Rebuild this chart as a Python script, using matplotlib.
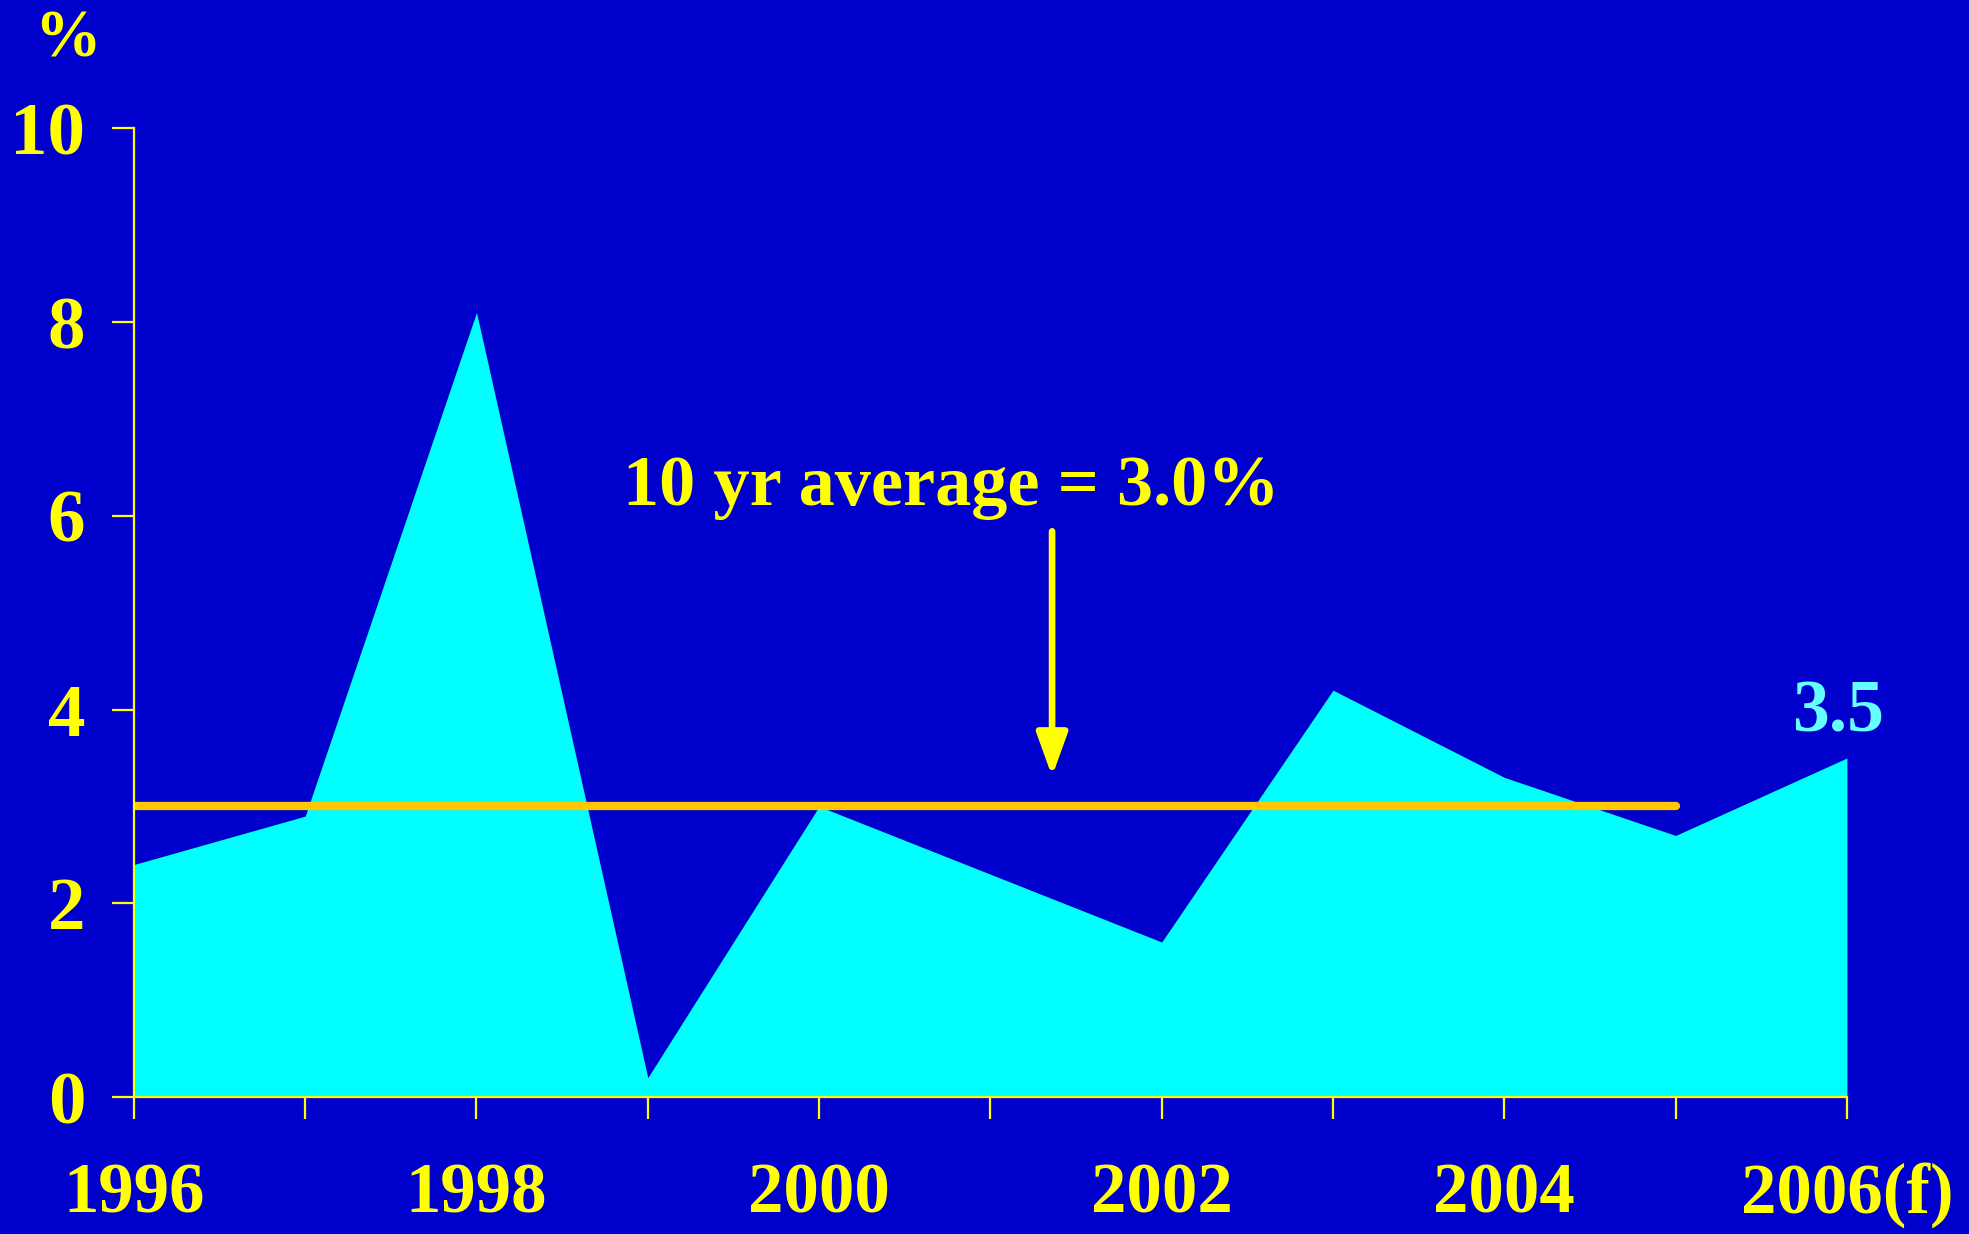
import matplotlib.pyplot as plt
import numpy as np

# yearly growth, %
years = [1996, 1997, 1998, 1999, 2000, 2001, 2002, 2003, 2004, 2005, 2006]
growth = [2.4, 2.9, 8.1, 0.2, 3.0, 2.3, 1.6, 4.2, 3.3, 2.7, 3.5]
avg_value = 3.0
avg_span = [1996, 2005]
tick_years = [1996, 1998, 2000, 2002, 2004, 2006]
tick_labels = ['1996', '1998', '2000', '2002', '2004', '2006(f)']
y_ticks = [0, 2, 4, 6, 8, 10]

bg = '#0000CC'
yellow = '#FFFF00'
plt.rcParams['font.family'] = ['Liberation Serif', 'DejaVu Serif']
plt.rcParams['font.weight'] = 'bold'

fig = plt.figure(figsize=(19.69, 12.34), dpi=100, facecolor=bg)
ax = fig.add_axes([0.068, 0.111, 0.870, 0.785])
ax.set_facecolor(bg)

ax.fill_between(years, growth, 0, color='#00FFFF', linewidth=0, zorder=2)
ax.plot(avg_span, [avg_value, avg_value], color='#FFC800', lw=6,
        solid_capstyle='round', zorder=3)

# arrow pointing down at the average line
ax.annotate('', xy=(2001.36, 3.31), xytext=(2001.36, 5.84),
            arrowprops=dict(arrowstyle='-|>,head_width=0.47,head_length=1.3',
                            mutation_scale=20, shrinkA=0, shrinkB=0,
                            color=yellow, lw=4.8), zorder=4)
ax.text(2000.77, 6.11, '10 yr average = %.1f%%' % avg_value, color=yellow,
        fontsize=52, ha='center', va='baseline', fontweight='bold')
ax.text(2005.95, 3.77, '%.1f' % growth[-1], color='#66FFFF', fontsize=53,
        ha='center', va='baseline', fontweight='bold')
fig.text(0.0345, 0.954, '%', color=yellow, fontsize=48, ha='center',
         va='baseline', fontweight='bold')

ax.set_xlim(1996, 2006)
ax.set_ylim(0, 10)
ax.set_xticks(years)
ax.set_xticklabels([tick_labels[tick_years.index(y)] if y in tick_years else ''
                    for y in years])
ax.set_yticks(y_ticks)
ax.set_yticklabels([str(v) for v in y_ticks])

for side in ['top', 'right']:
    ax.spines[side].set_visible(False)
for side in ['left', 'bottom']:
    ax.spines[side].set_color(yellow)
    ax.spines[side].set_linewidth(1.6)
    ax.spines[side].set_zorder(5)

ax.tick_params(axis='x', colors=yellow, length=16, width=1.6, pad=31,
               labelsize=51, direction='out')
ax.tick_params(axis='y', colors=yellow, length=16, width=1.6, pad=19,
               labelsize=54, direction='out')
for lab in ax.get_xticklabels() + ax.get_yticklabels():
    lab.set_fontweight('bold')
    lab.set_color(yellow)

fig.savefig('out.png', dpi=100, facecolor=bg)
